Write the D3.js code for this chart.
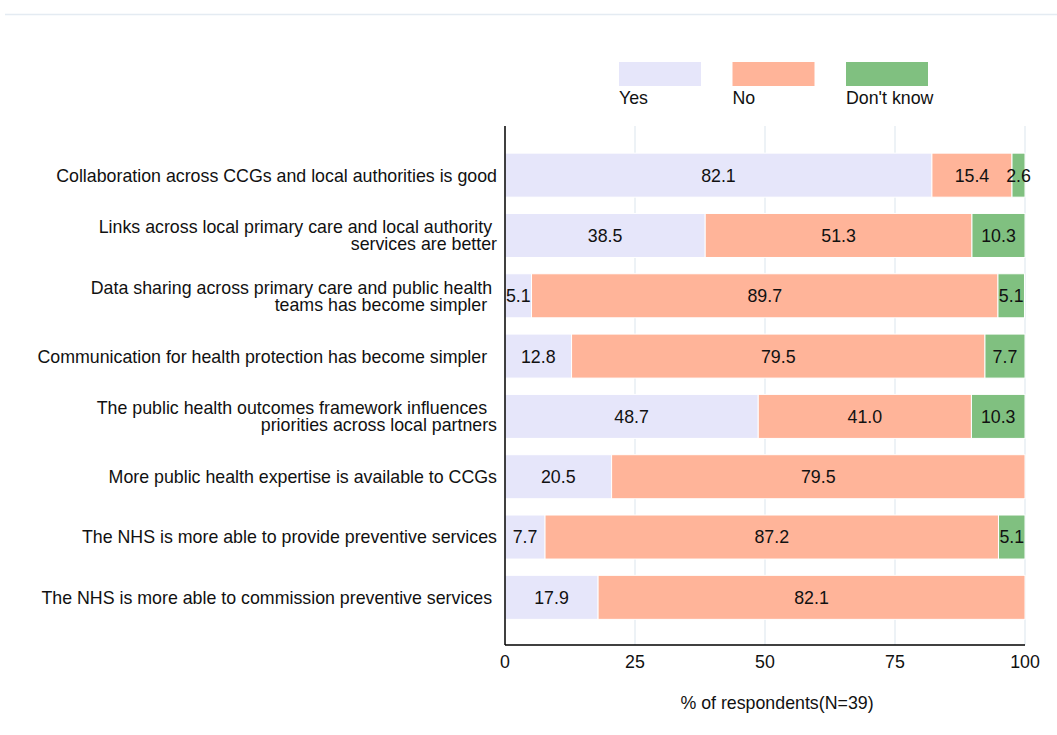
<!DOCTYPE html>
<html>
<head>
<meta charset="utf-8">
<script src="https://cdn.jsdelivr.net/npm/d3@7"></script>
<style>
  body { margin: 0; background: #fff; }
  svg { display: block; font-family: "Liberation Sans", Arial, sans-serif; }
  .row-label { white-space: pre; }
</style>
</head>
<body>
<div id="chart"></div>
<script>
const categories = [
  ['Collaboration across CCGs and local authorities is good'],
  ['Links across local primary care and local authority ', 'services are better'],
  ['Data sharing across primary care and public health ', 'teams has become simpler  '],
  ['Communication for health protection has become simpler  '],
  ['The public health outcomes framework influences  ', 'priorities across local partners'],
  ['More public health expertise is available to CCGs'],
  ['The NHS is more able to provide preventive services'],
  ['The NHS is more able to commission preventive services ']
];
const seriesNames = ['Yes', 'No', "Don't know"];
const seriesColors = ['#e6e6fa', '#ffb499', '#80c080'];
const yesValues = [82.1, 38.5, 5.1, 12.8, 48.7, 20.5, 7.7, 17.9];
const noValues = [15.4, 51.3, 89.7, 79.5, 41.0, 79.5, 87.2, 82.1];
const dontKnowValues = [2.6, 10.3, 5.1, 7.7, 10.3, 0, 5.1, 0];
const xTicks = [0, 25, 50, 75, 100];
const xTitle = '% of respondents(N=39)';

const width = 1057, height = 735;
const plot = { left: 505, right: 1025, top: 126, bottom: 645 };
const fontSize = 17.8;

const svg = d3.select('#chart').append('svg')
  .attr('width', width)
  .attr('height', height);

// faint rule across the top
svg.append('line')
  .attr('x1', 5).attr('x2', width)
  .attr('y1', 14.5).attr('y2', 14.5)
  .attr('stroke', '#e4ebf2')
  .attr('stroke-width', 1.5);

const x = d3.scaleLinear().domain([0, 100]).range([plot.left, plot.right]);
const y = d3.scaleBand()
  .domain(d3.range(categories.length))
  .range([145, 627.5])
  .paddingInner(0.27)
  .paddingOuter(0.135);

// gridlines
svg.append('g')
  .selectAll('line')
  .data(xTicks.slice(1))
  .join('line')
  .attr('x1', d => x(d)).attr('x2', d => x(d))
  .attr('y1', plot.top).attr('y2', plot.bottom)
  .attr('stroke', '#edf2f6')
  .attr('stroke-width', 2);

const rows = categories.map((c, i) => ({
  index: i,
  values: [yesValues[i], noValues[i], dontKnowValues[i]]
}));

const segments = [];
rows.forEach(r => {
  let acc = 0;
  r.values.forEach((v, k) => {
    if (v > 0) segments.push({ row: r.index, series: k, x0: acc, x1: acc + v, value: v });
    acc += v;
  });
});

const bars = svg.append('g');
bars.selectAll('rect')
  .data(segments)
  .join('rect')
  .attr('x', d => x(d.x0))
  .attr('y', d => y(d.row))
  .attr('width', d => x(Math.min(d.x1, 100)) - x(d.x0))
  .attr('height', y.bandwidth())
  .attr('fill', d => seriesColors[d.series])
  .attr('stroke', '#fff')
  .attr('stroke-width', 1);

bars.selectAll('text')
  .data(segments)
  .join('text')
  .attr('x', d => x((d.x0 + Math.min(d.x1, 100)) / 2))
  .attr('y', d => y(d.row) + y.bandwidth() / 2)
  .attr('dy', '0.36em')
  .attr('text-anchor', 'middle')
  .attr('font-size', fontSize)
  .attr('fill', '#111')
  .text(d => d.value.toFixed(1));

// axes lines
svg.append('line')
  .attr('x1', plot.left).attr('x2', plot.left)
  .attr('y1', plot.top).attr('y2', plot.bottom)
  .attr('stroke', '#000').attr('stroke-width', 1.5);
svg.append('line')
  .attr('x1', plot.left).attr('x2', plot.right)
  .attr('y1', plot.bottom).attr('y2', plot.bottom)
  .attr('stroke', '#000').attr('stroke-width', 1.5);

// x tick labels
svg.append('g')
  .selectAll('text')
  .data(xTicks)
  .join('text')
  .attr('x', d => x(d))
  .attr('y', 662)
  .attr('dy', '0.36em')
  .attr('text-anchor', 'middle')
  .attr('font-size', fontSize)
  .attr('fill', '#111')
  .text(d => d);

svg.append('text')
  .attr('x', (plot.left + plot.right) / 2 + 12)
  .attr('y', 703)
  .attr('dy', '0.36em')
  .attr('text-anchor', 'middle')
  .attr('font-size', fontSize)
  .attr('fill', '#111')
  .text(xTitle);

// row labels
const labels = svg.append('g')
  .selectAll('text')
  .data(categories)
  .join('text')
  .attr('class', 'row-label')
  .attr('text-anchor', 'end')
  .attr('font-size', fontSize)
  .attr('fill', '#111')
  .attr('y', (d, i) => y(i) + y.bandwidth() / 2);

labels.selectAll('tspan')
  .data(d => d.map((line, j) => ({ line, j, n: d.length })))
  .join('tspan')
  .attr('x', 497)
  .attr('dy', d => d.j === 0 ? `${0.36 - (d.n - 1) * 0.48}em` : '0.96em')
  .text(d => d.line);

// legend
const legend = svg.append('g')
  .selectAll('g')
  .data(seriesNames)
  .join('g')
  .attr('transform', (d, i) => `translate(${619 + i * 113.5}, 62)`);

legend.append('rect')
  .attr('width', 82)
  .attr('height', 24)
  .attr('fill', (d, i) => seriesColors[i]);

legend.append('text')
  .attr('x', 0)
  .attr('y', 42)
  .attr('font-size', fontSize)
  .attr('fill', '#111')
  .text(d => d);
</script>
</body>
</html>
